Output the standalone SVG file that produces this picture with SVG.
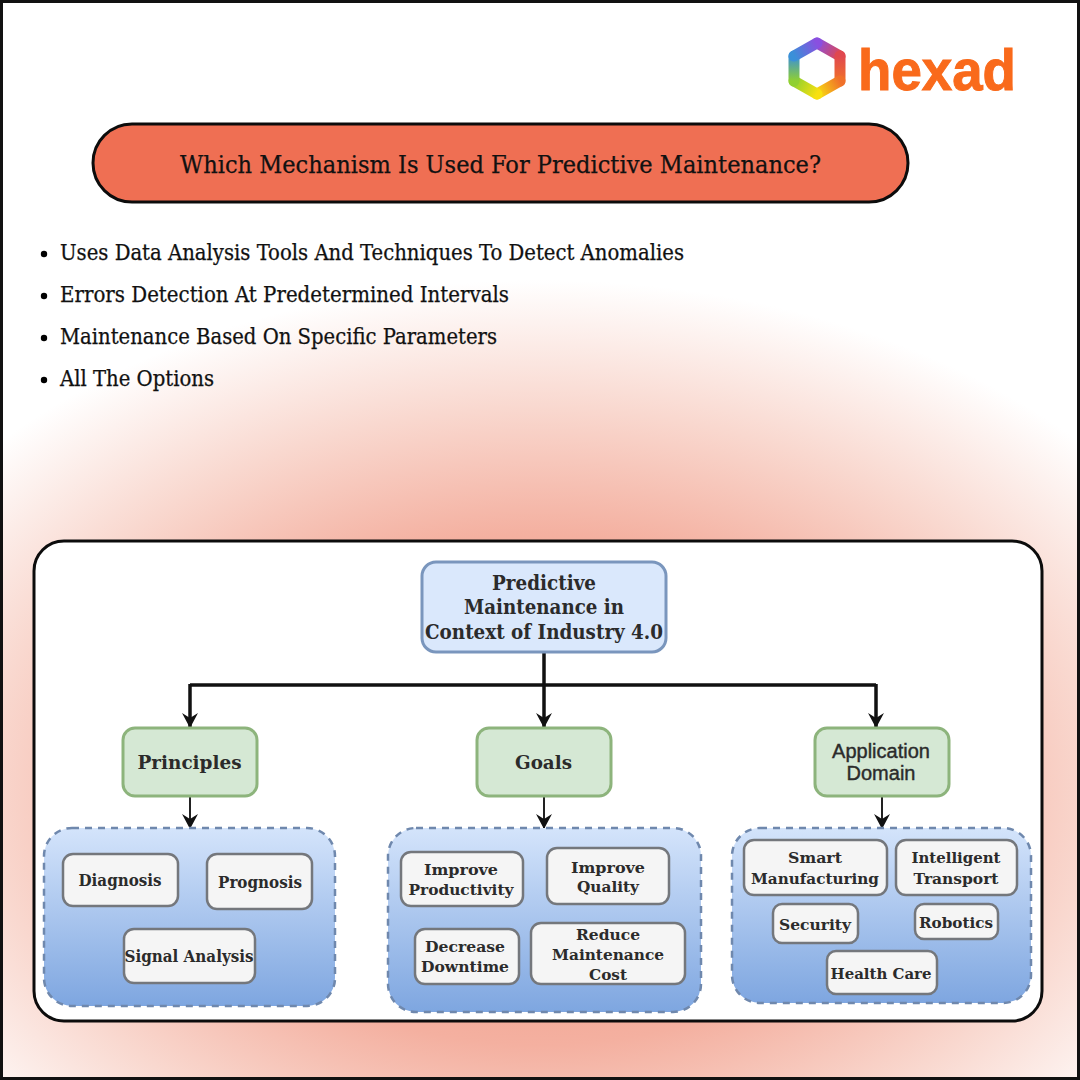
<svg xmlns="http://www.w3.org/2000/svg" width="1080" height="1080" viewBox="0 0 1080 1080">
<style>
.t{font-family:"DejaVu Serif Condensed","DejaVu Serif","Liberation Serif",serif;fill:#111;stroke:#111;stroke-width:.25}
.b{font-family:"DejaVu Serif","Liberation Serif",serif;font-weight:700;fill:#2b2b2b;text-anchor:middle}
.s{font-family:"Liberation Sans",Arial,sans-serif;fill:#2b2b2b;stroke:#2b2b2b;stroke-width:.4;text-anchor:middle;font-size:20px}
.grp{stroke:#6f88ad;stroke-width:2.5;stroke-dasharray:7 6;fill:url(#blue)}
.leaf{fill:#f5f5f5;stroke:#74777c;stroke-width:2.5}
.green{fill:#d5e8d4;stroke:#8db47c;stroke-width:3}
.c{fill:none;stroke:#111;stroke-width:3.5}
.c2{fill:none;stroke:#222;stroke-width:2}
</style>
<defs>
<radialGradient id="bg" gradientUnits="userSpaceOnUse" cx="540" cy="790" r="510" gradientTransform="translate(540 790) scale(1.45 1) translate(-540 -790)">
<stop offset="0" stop-color="#f08f78"/><stop offset="0.5" stop-color="#f4b0a0"/><stop offset="0.75" stop-color="#f9d8cf"/><stop offset="1" stop-color="#fff"/>
</radialGradient>
<linearGradient id="blue" x1="0" y1="0" x2="0" y2="1"><stop offset="0" stop-color="#d4e4fb"/><stop offset="1" stop-color="#7ea6e0"/></linearGradient>
<linearGradient id="h1" gradientUnits="userSpaceOnUse" x1="817" y1="43" x2="840" y2="56"><stop offset="0" stop-color="#8a4fe0"/><stop offset="1" stop-color="#e0484f"/></linearGradient>
<linearGradient id="h2" gradientUnits="userSpaceOnUse" x1="840" y1="56" x2="840" y2="81"><stop offset="0" stop-color="#e0484f"/><stop offset="1" stop-color="#f0702a"/></linearGradient>
<linearGradient id="h3" gradientUnits="userSpaceOnUse" x1="840" y1="81" x2="817" y2="94"><stop offset="0" stop-color="#f0702a"/><stop offset="1" stop-color="#f8e010"/></linearGradient>
<linearGradient id="h4" gradientUnits="userSpaceOnUse" x1="817" y1="94" x2="794" y2="81"><stop offset="0" stop-color="#f8e010"/><stop offset="1" stop-color="#90d030"/></linearGradient>
<linearGradient id="h5" gradientUnits="userSpaceOnUse" x1="794" y1="81" x2="794" y2="56"><stop offset="0" stop-color="#90d030"/><stop offset="1" stop-color="#3a90d8"/></linearGradient>
<linearGradient id="h6" gradientUnits="userSpaceOnUse" x1="794" y1="56" x2="817" y2="43"><stop offset="0" stop-color="#3a90d8"/><stop offset="1" stop-color="#8a4fe0"/></linearGradient>
<marker id="ah" markerUnits="userSpaceOnUse" markerWidth="20" markerHeight="20" refX="15" refY="10" orient="auto" viewBox="0 0 20 20"><path d="M1 2L6 10L1 18L16 10Z" fill="#111"/></marker>
</defs>
<rect width="1080" height="1080" fill="#fff"/>
<rect width="1080" height="1080" fill="url(#bg)"/>
<rect x="1.500" y="1.500" width="1077" height="1077" fill="none" stroke="#111" stroke-width="3"/>
<g id="logo">
<g fill="none" stroke-width="11" stroke-linecap="round">
<path d="M817 43L840 56" stroke="url(#h1)"/>
<path d="M840 56V81" stroke="url(#h2)"/>
<path d="M840 81L817 94" stroke="url(#h3)"/>
<path d="M817 94L794 81" stroke="url(#h4)"/>
<path d="M794 81V56" stroke="url(#h5)"/>
<path d="M794 56L817 43" stroke="url(#h6)"/>
</g>
<text x="858" y="90" font-family="'Liberation Sans',Arial,sans-serif" font-weight="700" font-size="58" fill="#f96a1b" stroke="#f96a1b" stroke-width="1" textLength="158" lengthAdjust="spacingAndGlyphs">hexad</text>
</g>
<g id="title">
<rect x="93" y="124" width="815" height="78" rx="39" fill="#ef6f53" stroke="#0c0c0c" stroke-width="3"/>
<text class="t" x="180" y="173" font-size="25" textLength="641" lengthAdjust="spacingAndGlyphs">Which Mechanism Is Used For Predictive Maintenance?</text>
</g>
<g id="bullets">
<circle cx="44" cy="254" r="3.200"/><circle cx="44" cy="296" r="3.200"/><circle cx="44" cy="338" r="3.200"/><circle cx="44" cy="380" r="3.200"/>
<text class="t" x="60" y="260" font-size="22.500" textLength="624" lengthAdjust="spacingAndGlyphs">Uses Data Analysis Tools And Techniques To Detect Anomalies</text>
<text class="t" x="60" y="302" font-size="22.500" textLength="449" lengthAdjust="spacingAndGlyphs">Errors Detection At Predetermined Intervals</text>
<text class="t" x="60" y="344" font-size="22.500" textLength="437" lengthAdjust="spacingAndGlyphs">Maintenance Based On Specific Parameters</text>
<text class="t" x="60" y="386" font-size="22.500" textLength="154" lengthAdjust="spacingAndGlyphs">All The Options</text>
</g>
<g id="panel"><rect x="34" y="541" width="1008" height="480" rx="30" fill="#fff" stroke="#0c0c0c" stroke-width="3"/></g>
<g id="connectors">
<path class="c" d="M544 652V727" marker-end="url(#ah)"/>
<path class="c" d="M190 685H876"/>
<path class="c" d="M190 684V727" marker-end="url(#ah)"/>
<path class="c" d="M876 684V727" marker-end="url(#ah)"/>
<path class="c2" d="M190 796V828" marker-end="url(#ah)"/>
<path class="c2" d="M544 796V828" marker-end="url(#ah)"/>
<path class="c2" d="M882 796V828" marker-end="url(#ah)"/>
</g>
<g id="root"><rect x="422" y="562" width="244" height="90" rx="14" fill="#dae8fc" stroke="#7a96bd" stroke-width="3"/>
<text class="b" x="544" y="590" font-size="19.500" textLength="104" lengthAdjust="spacingAndGlyphs">Predictive</text><text class="b" x="544" y="614" font-size="19.500" textLength="160" lengthAdjust="spacingAndGlyphs">Maintenance in</text><text class="b" x="544" y="639" font-size="19.500" textLength="238" lengthAdjust="spacingAndGlyphs">Context of Industry 4.0</text></g>
<g id="principles"><rect class="green" x="123" y="728" width="134" height="68" rx="12"/><text class="b" x="189.500" y="769" font-size="19" textLength="104" lengthAdjust="spacingAndGlyphs">Principles</text></g>
<g id="goals"><rect class="green" x="477" y="728" width="134" height="68" rx="12"/><text class="b" x="543.500" y="769" font-size="19" textLength="57" lengthAdjust="spacingAndGlyphs">Goals</text></g>
<g id="app"><rect class="green" x="815" y="728" width="134" height="68" rx="12"/><text class="s" x="881" y="758">Application</text><text class="s" x="881" y="780">Domain</text></g>
<g id="group-principles"><rect class="grp" x="44" y="828" width="291" height="178" rx="28"/></g>
<g id="group-goals"><rect class="grp" x="388" y="828" width="313" height="184" rx="28"/></g>
<g id="group-app"><rect class="grp" x="732" y="828" width="299" height="175" rx="28"/></g>
<g id="diagnosis"><rect class="leaf" x="63" y="854" width="115" height="52" rx="10"/><text class="b" x="120" y="886" font-size="16" textLength="83" lengthAdjust="spacingAndGlyphs">Diagnosis</text></g>
<g id="prognosis"><rect class="leaf" x="207" y="854" width="105" height="55" rx="10"/><text class="b" x="260" y="888" font-size="16" textLength="84" lengthAdjust="spacingAndGlyphs">Prognosis</text></g>
<g id="signal"><rect class="leaf" x="124" y="929" width="131" height="54" rx="10"/><text class="b" x="189" y="962" font-size="16" textLength="129" lengthAdjust="spacingAndGlyphs">Signal Analysis</text></g>
<g id="productivity"><rect class="leaf" x="401" y="852" width="122" height="54" rx="10"/><text class="b" x="461" y="875" font-size="15.500" textLength="74" lengthAdjust="spacingAndGlyphs">Improve</text><text class="b" x="461" y="895" font-size="15.500" textLength="105" lengthAdjust="spacingAndGlyphs">Productivity</text></g>
<g id="quality"><rect class="leaf" x="547" y="848" width="122" height="56" rx="10"/><text class="b" x="608" y="873" font-size="15.500" textLength="74" lengthAdjust="spacingAndGlyphs">Improve</text><text class="b" x="608" y="892" font-size="15.500" textLength="62" lengthAdjust="spacingAndGlyphs">Quality</text></g>
<g id="downtime"><rect class="leaf" x="415" y="929" width="104" height="55" rx="10"/><text class="b" x="465" y="952" font-size="15.500" textLength="80" lengthAdjust="spacingAndGlyphs">Decrease</text><text class="b" x="465" y="972" font-size="15.500" textLength="88" lengthAdjust="spacingAndGlyphs">Downtime</text></g>
<g id="cost"><rect class="leaf" x="531" y="923" width="154" height="61" rx="10"/><text class="b" x="608" y="940" font-size="15.500" textLength="64" lengthAdjust="spacingAndGlyphs">Reduce</text><text class="b" x="608" y="960" font-size="15.500" textLength="112" lengthAdjust="spacingAndGlyphs">Maintenance</text><text class="b" x="608" y="980" font-size="15.500" textLength="38" lengthAdjust="spacingAndGlyphs">Cost</text></g>
<g id="smart"><rect class="leaf" x="744" y="840" width="143" height="55" rx="10"/><text class="b" x="815" y="863" font-size="15.500" textLength="54" lengthAdjust="spacingAndGlyphs">Smart</text><text class="b" x="815" y="884" font-size="15.500" textLength="128" lengthAdjust="spacingAndGlyphs">Manufacturing</text></g>
<g id="transport"><rect class="leaf" x="896" y="840" width="121" height="55" rx="10"/><text class="b" x="956" y="863" font-size="15.500" textLength="89" lengthAdjust="spacingAndGlyphs">Intelligent</text><text class="b" x="956" y="884" font-size="15.500" textLength="85" lengthAdjust="spacingAndGlyphs">Transport</text></g>
<g id="security"><rect class="leaf" x="773" y="904" width="85" height="39" rx="9"/><text class="b" x="815" y="930" font-size="15.500" textLength="72" lengthAdjust="spacingAndGlyphs">Security</text></g>
<g id="robotics"><rect class="leaf" x="915" y="904" width="83" height="35" rx="9"/><text class="b" x="956" y="928" font-size="15.500" textLength="74" lengthAdjust="spacingAndGlyphs">Robotics</text></g>
<g id="health"><rect class="leaf" x="827" y="951" width="110" height="43" rx="9"/><text class="b" x="881" y="979" font-size="15.500" textLength="101" lengthAdjust="spacingAndGlyphs">Health Care</text></g>
</svg>
